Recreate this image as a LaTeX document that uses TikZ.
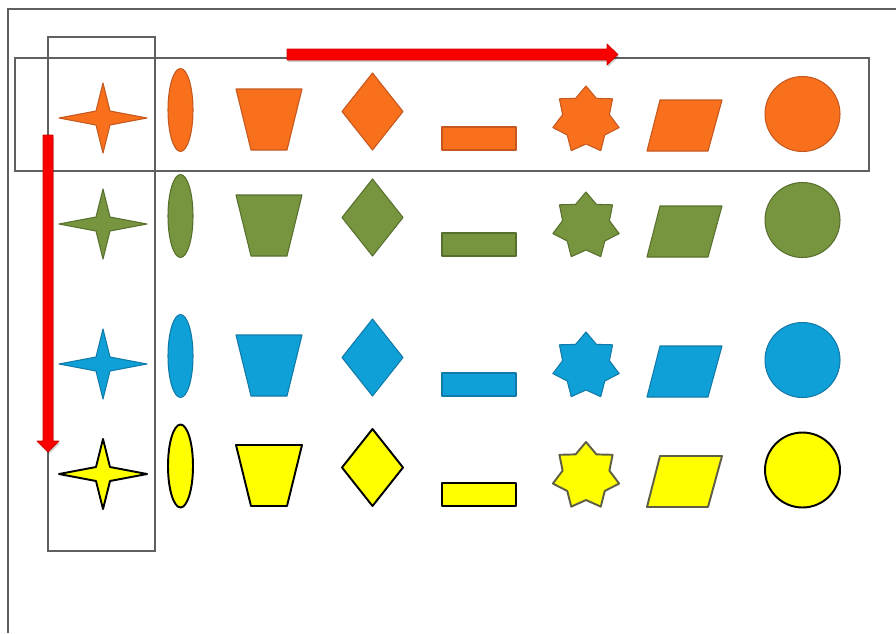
\documentclass[tikz,border=0pt]{standalone}
\definecolor{orangeF}{RGB}{248,111,28}
\definecolor{orangeD}{RGB}{196,88,30}
\definecolor{greenF}{RGB}{119,148,62}
\definecolor{greenD}{RGB}{88,112,46}
\definecolor{blueF}{RGB}{14,160,214}
\definecolor{blueD}{RGB}{18,122,168}
\definecolor{yellowF}{RGB}{255,255,0}
\definecolor{yellowS}{RGB}{95,95,70}
\definecolor{frameGray}{RGB}{96,96,96}
\definecolor{arrowRed}{RGB}{250,0,0}
\begin{document}
\begin{tikzpicture}[x=0.02cm,y=-0.02cm,
  frameline/.style={draw=frameGray,line width=1.1pt},
  arrowbody/.style={fill=arrowRed,draw=red!80!black,line width=0.4pt,line join=round},
  arrowshade/.style={fill=black,opacity=0.18}]
\useasboundingbox (0,0) rectangle (896,633);
\fill[white] (0,0) rectangle (896,633);

% four rows of the same eight shapes, one colour scheme per row
\foreach \dy/\fc/\dc/\sc/\lw in {0/orangeF/orangeD/orangeD/0.6pt,
                                  106/greenF/greenD/greenD/0.6pt,
                                  246/blueF/blueD/blueD/0.6pt,
                                  356/yellowF/black/yellowS/1.1pt} {
  \begin{scope}[shift={(0,\dy)},
      sh/.style={fill=\fc,draw=\dc,line width=\lw,line join=round},
      shs/.style={fill=\fc,draw=\sc,line width=\lw,line join=round}]
    % four-pointed star
    \draw[sh] (59,118) -- (96,111) -- (103,83) -- (110,111) -- (147,118)
              -- (110,125) -- (103,153) -- (96,125) -- cycle;
    % tall ellipse
    \draw[sh] (180.5,110) ellipse [x radius=0.25cm, y radius=0.83cm];
    % trapezoid, wide side up
    \draw[sh] (236,89) -- (302,89) -- (287,150) -- (251,150) -- cycle;
    % diamond
    \draw[sh] (372.5,73) -- (403,111.5) -- (372.5,150) -- (342,111.5) -- cycle;
    % flat rectangle
    \draw[sh] (442,127) rectangle (516,150);
    % seven-pointed star
    \draw[shs,shift={(586,120)}] (-90:34)
      \foreach \k in {1,...,13} { -- ({-90+\k*360/14}:{29+5*cos(180*\k)}) } -- cycle;
    % parallelogram
    \draw[shs] (660,100) -- (722,100) -- (708,151) -- (647,151) -- cycle;
    % circle
    \draw[sh] (802.5,114) circle [radius=0.75cm];
  \end{scope}
}

% page frame, row box and column box
\draw[frameline] (8,633) -- (8,9) -- (896,9);
\draw[frameline] (15,58) rectangle (869,171);
\draw[frameline] (48,37) rectangle (155,551);

% red arrows along the row and down the column
\fill[arrowshade] (288,51) -- (608,51) -- (608,46) -- (619,56.5) -- (608,67) -- (608,62) -- (288,62) -- cycle;
\draw[arrowbody] (287,49) -- (607,49) -- (607,44) -- (618,54.5) -- (607,65) -- (607,60) -- (287,60) -- cycle;
\fill[arrowshade] (44,137) -- (54,137) -- (54,443) -- (60,443) -- (49,454) -- (39,443) -- (44,443) -- cycle;
\draw[arrowbody] (43,135) -- (53,135) -- (53,441) -- (59,441) -- (48,452) -- (37,441) -- (43,441) -- cycle;
\end{tikzpicture}
\end{document}
